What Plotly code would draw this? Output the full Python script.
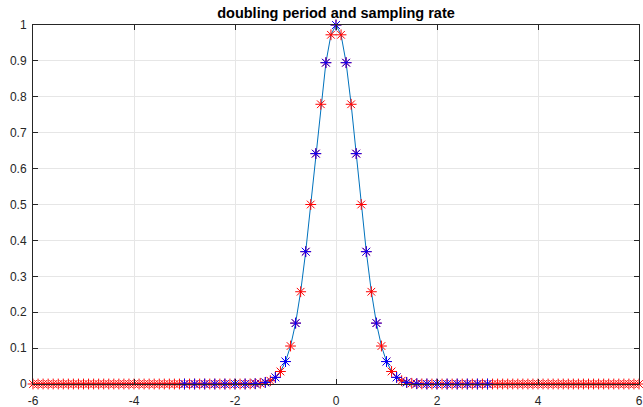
import plotly.graph_objects as go

# dense sampling (red), step 0.1 from -6 to 6
x_red = [round(-6 + 0.1 * i, 1) for i in range(121)]
y_red_left_zeros = [0.0] * 42
y_red_core = [0.0001, 0.0003, 0.0008, 0.0020, 0.0044, 0.0092, 0.0184, 0.0349, 0.0625,
              0.1058, 0.1696, 0.2570, 0.3686, 0.5000, 0.6417, 0.7792, 0.8950, 0.9727,
              1.0000,
              0.9727, 0.8950, 0.7792, 0.6417, 0.5000, 0.3686, 0.2570, 0.1696, 0.1058,
              0.0625, 0.0349, 0.0184, 0.0092, 0.0044, 0.0020, 0.0008, 0.0003, 0.0001]
y_red = y_red_left_zeros + y_red_core + [0.0] * 42

# coarse sampling (blue), step 0.2 from -3 to 3
x_blue = [round(-3 + 0.2 * i, 1) for i in range(31)]
y_blue = [0.0, 0.0, 0.0, 0.0, 0.0, 0.0,
          0.0001, 0.0008, 0.0044, 0.0184, 0.0625, 0.1696, 0.3686, 0.6417, 0.8950,
          1.0000,
          0.8950, 0.6417, 0.3686, 0.1696, 0.0625, 0.0184, 0.0044, 0.0008, 0.0001,
          0.0, 0.0, 0.0, 0.0, 0.0, 0.0]

x_ticks = [-6, -4, -2, 0, 2, 4, 6]
x_ticklabels = ["-6", "-4", "-2", "0", "2", "4", "6"]
y_ticks = [0, 0.1, 0.2, 0.3, 0.4, 0.5, 0.6, 0.7, 0.8, 0.9, 1]
y_ticklabels = ["0", "0.1", "0.2", "0.3", "0.4", "0.5", "0.6", "0.7", "0.8", "0.9", "1"]

title_text = "doubling period and sampling rate"

fig = go.Figure()
fig.add_trace(go.Scatter(x=x_red, y=y_red, mode="lines",
                         line=dict(color="#0072BD", width=1), cliponaxis=False,
                         showlegend=False))
fig.add_trace(go.Scatter(x=x_red, y=y_red, mode="markers",
                         marker=dict(symbol="asterisk-open", size=9, color="#FF0000",
                                     line=dict(color="#FF0000", width=1)),
                         cliponaxis=False, showlegend=False))
fig.add_trace(go.Scatter(x=x_blue, y=y_blue, mode="markers",
                         marker=dict(symbol="asterisk-open", size=9, color="#0000FF",
                                     line=dict(color="#0000FF", width=1)),
                         cliponaxis=False, showlegend=False))

axis_common = dict(
    showline=True, linecolor="#262626", linewidth=1, mirror="ticks",
    ticks="inside", ticklen=5, tickwidth=1, tickcolor="#262626",
    showgrid=True, gridcolor="#E6E6E6", gridwidth=1, zeroline=False,
    automargin=False,
    tickfont=dict(family="Liberation Sans, Arial, sans-serif", size=12, color="#262626"),
)

fig.update_xaxes(range=[-6, 6], tickvals=x_ticks, ticktext=x_ticklabels,
                 ticklabelstandoff=6, **axis_common)
fig.update_yaxes(range=[0, 1], tickvals=y_ticks, ticktext=y_ticklabels,
                 ticklabelstandoff=3, **axis_common)

fig.update_layout(
    width=643, height=407,
    margin=dict(l=33, r=4, t=25, b=23, pad=0),
    paper_bgcolor="white", plot_bgcolor="white",
    title=dict(text="<b>" + title_text + "</b>", x=336 / 643, xanchor="center",
               xref="container", y=1 - 13 / 407, yref="container", yanchor="middle",
               automargin=False,
               font=dict(family="Liberation Sans, Arial, sans-serif", size=14.5, color="#000000")),
)

fig.write_html("out.html", config={"displayModeBar": False},
               post_script="document.body.style.margin='0';")
